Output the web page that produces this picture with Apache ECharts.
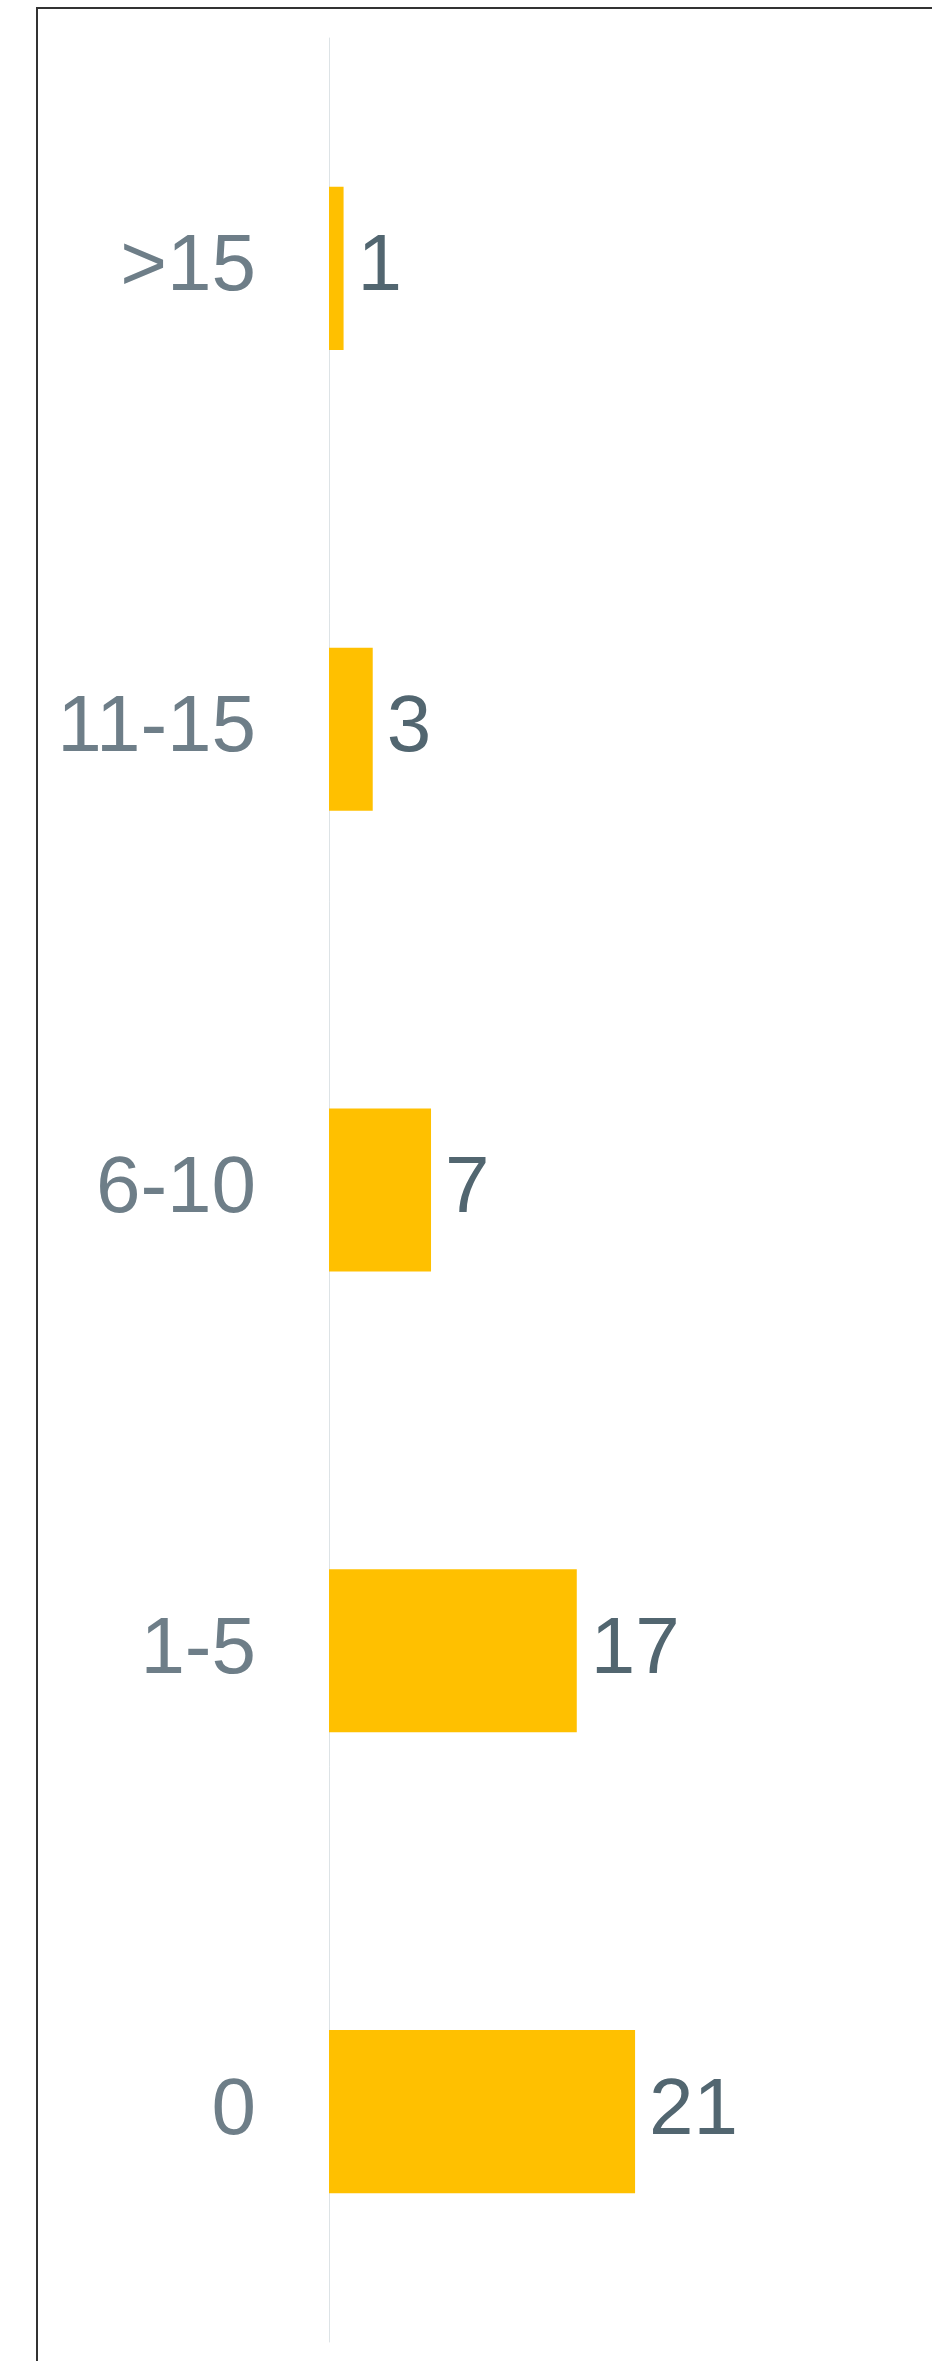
<!DOCTYPE html>
<html>
<head>
<meta charset="utf-8">
<script src="https://cdn.jsdelivr.net/npm/echarts@6/dist/echarts.min.js"></script>
<style>
  html, body { margin: 0; padding: 0; background: #ffffff; overflow: hidden; }
  #frame { position: absolute; left: 36px; top: 7px; width: 1000px; height: 2500px; border: 2px solid #333; box-sizing: border-box; }
  #chart { position: absolute; left: 0; top: 0; width: 932px; height: 2361px; }
</style>
</head>
<body>
<div id="frame"></div>
<div id="chart"></div>
<script>
const categories = ['0', '1-5', '6-10', '11-15', '>15'];
const counts = [21, 17, 7, 3, 1];

const FONT = '"Liberation Sans", Arimo, Arial, sans-serif';
const chart = echarts.init(document.getElementById('chart'), null, { renderer: 'canvas' });
chart.setOption({
  backgroundColor: 'transparent',
  animation: false,
  grid: { left: 329, top: 38, width: 583, height: 2304, containLabel: false },
  xAxis: {
    type: 'value', min: 0, max: 40, show: false
  },
  yAxis: {
    type: 'category',
    data: categories,
    axisLine: { show: true, lineStyle: { color: '#dde3e6', width: 1 } },
    axisTick: { show: false },
    axisLabel: {
      margin: 73,
      color: '#6e7e88',
      fontFamily: FONT,
      fontSize: 80,
      padding: [6, 0, 0, 0]
    },
    splitLine: { show: false }
  },
  series: [{
    type: 'bar',
    data: counts,
    barWidth: '35.4%',
    itemStyle: { color: '#FFC000' },
    label: {
      show: true,
      position: 'right',
      distance: 14,
      color: '#526670',
      fontFamily: FONT,
      fontSize: 80,
      padding: [8, 0, 0, 0]
    }
  }]
});
</script>
</body>
</html>
